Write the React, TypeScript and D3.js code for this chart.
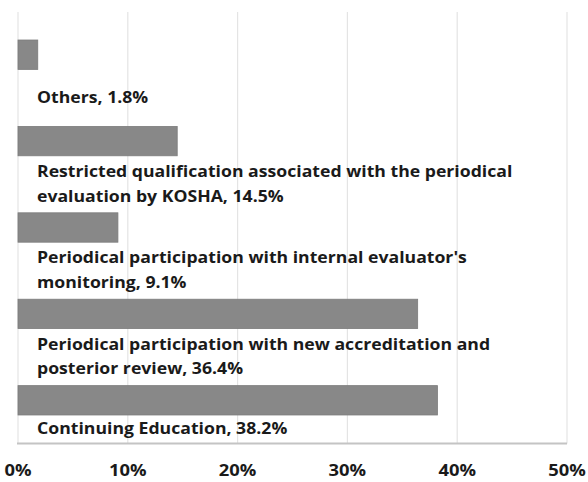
import React from 'react';
import * as d3 from 'd3';

const categories = [
  'Others',
  'Restricted qualification associated with the periodical\nevaluation by KOSHA',
  "Periodical participation with internal evaluator's\nmonitoring",
  'Periodical participation with new accreditation and\nposterior review',
  'Continuing Education',
];
const values = [1.8, 14.5, 9.1, 36.4, 38.2];
const xTicks = [0, 10, 20, 30, 40, 50];

const W = 588, H = 482;
const left = 18, right = 567, top = 12, bottom = 443.5;
const font = '"Open Sans", "Noto Sans", sans-serif';

const App = () => {
  const x = d3.scaleLinear().domain([0, 50]).range([left, right]);
  const y = d3.scaleBand<number>()
    .domain(d3.range(categories.length))
    .range([11.5, bottom])
    .paddingInner(0.66)
    .paddingOuter(0.33);
  const bw = y.bandwidth();
  const lineH = 24.5;

  return (
    <div style={{ position: 'absolute', left: 0, top: 0 }}>
      <svg width={W} height={H} style={{ display: 'block', background: '#fff' }}>
        {xTicks.map(t => (
          <line key={'g' + t} x1={x(t)} x2={x(t)} y1={top} y2={bottom}
            stroke="#e4e4e4" strokeWidth={1.2} />
        ))}
        {values.map((v, i) => (
          <rect key={'b' + i} x={x(0)} y={y(i)} width={x(v) - x(0)} height={bw}
            fill="#888888" stroke="#7c7c7c" strokeWidth={0.8} />
        ))}
        <line x1={x(0) - 1} x2={right} y1={bottom} y2={bottom} stroke="#c4c4c4" strokeWidth={2} />
        {categories.map((c, i) => {
          const lines = (c + ', ' + values[i] + '%').split('\n');
          const gapTop = (y(i) as number) + bw;
          const gapBot = i < categories.length - 1 ? (y(i + 1) as number) : bottom;
          const mid = (gapTop + gapBot) / 2 - 1;
          const first = mid - ((lines.length - 1) * lineH) / 2 + 6;
          return (
            <g key={'l' + i} transform={`translate(37,0) scale(1.07,1)`}>
              <text fontFamily={font} fontWeight="bold" fontSize={16.5} fill="#1a1a1a">
                {lines.map((ln, j) => (
                  <tspan key={j} x={0} y={first + j * lineH}>{ln}</tspan>
                ))}
              </text>
            </g>
          );
        })}
        {xTicks.map(t => (
          <g key={'t' + t} transform={`translate(${x(t)},476) scale(1.15,1)`}>
            <text textAnchor="middle" fontFamily={font}
              fontWeight="bold" fontSize={16} fill="#1a1a1a">{t + '%'}</text>
          </g>
        ))}
      </svg>
    </div>
  );
};

export default App;
